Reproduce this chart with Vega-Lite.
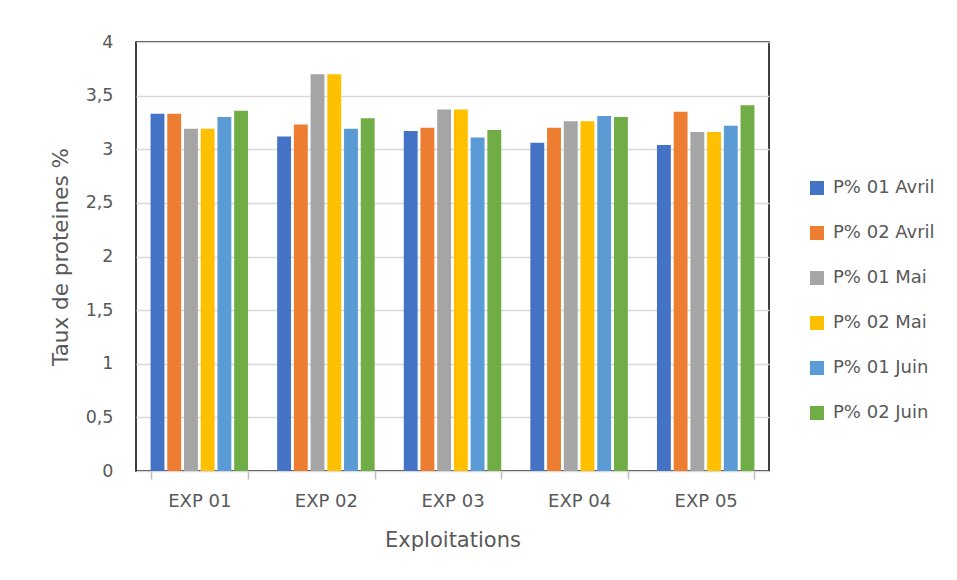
{
  "$schema": "https://vega.github.io/schema/vega-lite/v6.json",
  "width": 633,
  "height": 429,
  "autosize": {"type": "none"},
  "padding": {"left": 136, "top": 42, "right": 188, "bottom": 109},
  "background": "white",
  "config": {
    "font": "DejaVu Sans",
    "view": {"stroke": "black", "strokeWidth": 1.5},
    "axis": {"labelColor": "#595959", "titleColor": "#595959", "labelFont": "DejaVu Sans", "titleFont": "DejaVu Sans", "titleFontWeight": "normal"}
  },
  "data": {
    "values": [
      {"exp": "EXP 01", "serie": "P% 01 Avril", "v": 3.33},
      {"exp": "EXP 01", "serie": "P% 02 Avril", "v": 3.33},
      {"exp": "EXP 01", "serie": "P% 01 Mai", "v": 3.19},
      {"exp": "EXP 01", "serie": "P% 02 Mai", "v": 3.19},
      {"exp": "EXP 01", "serie": "P% 01 Juin", "v": 3.30},
      {"exp": "EXP 01", "serie": "P% 02 Juin", "v": 3.36},
      {"exp": "EXP 02", "serie": "P% 01 Avril", "v": 3.12},
      {"exp": "EXP 02", "serie": "P% 02 Avril", "v": 3.23},
      {"exp": "EXP 02", "serie": "P% 01 Mai", "v": 3.70},
      {"exp": "EXP 02", "serie": "P% 02 Mai", "v": 3.70},
      {"exp": "EXP 02", "serie": "P% 01 Juin", "v": 3.19},
      {"exp": "EXP 02", "serie": "P% 02 Juin", "v": 3.29},
      {"exp": "EXP 03", "serie": "P% 01 Avril", "v": 3.17},
      {"exp": "EXP 03", "serie": "P% 02 Avril", "v": 3.20},
      {"exp": "EXP 03", "serie": "P% 01 Mai", "v": 3.37},
      {"exp": "EXP 03", "serie": "P% 02 Mai", "v": 3.37},
      {"exp": "EXP 03", "serie": "P% 01 Juin", "v": 3.11},
      {"exp": "EXP 03", "serie": "P% 02 Juin", "v": 3.18},
      {"exp": "EXP 04", "serie": "P% 01 Avril", "v": 3.06},
      {"exp": "EXP 04", "serie": "P% 02 Avril", "v": 3.20},
      {"exp": "EXP 04", "serie": "P% 01 Mai", "v": 3.26},
      {"exp": "EXP 04", "serie": "P% 02 Mai", "v": 3.26},
      {"exp": "EXP 04", "serie": "P% 01 Juin", "v": 3.31},
      {"exp": "EXP 04", "serie": "P% 02 Juin", "v": 3.30},
      {"exp": "EXP 05", "serie": "P% 01 Avril", "v": 3.04},
      {"exp": "EXP 05", "serie": "P% 02 Avril", "v": 3.35},
      {"exp": "EXP 05", "serie": "P% 01 Mai", "v": 3.16},
      {"exp": "EXP 05", "serie": "P% 02 Mai", "v": 3.16},
      {"exp": "EXP 05", "serie": "P% 01 Juin", "v": 3.22},
      {"exp": "EXP 05", "serie": "P% 02 Juin", "v": 3.41}
    ]
  },
  "mark": {"type": "bar"},
  "encoding": {
    "x": {
      "field": "exp", "type": "nominal",
      "scale": {"paddingInner": 0.23, "paddingOuter": 0.115},
      "axis": {
        "title": "Exploitations", "titleFontSize": 21, "titlePadding": 19,
        "labelAngle": 0, "labelFontSize": 18, "labelPadding": 13,
        "domain": false, "ticks": true, "tickBand": "extent", "tickSize": 8, "tickColor": "#bfbfbf", "tickWidth": 1.5
      }
    },
    "xOffset": {
      "field": "serie", "type": "nominal",
      "sort": ["P% 01 Avril", "P% 02 Avril", "P% 01 Mai", "P% 02 Mai", "P% 01 Juin", "P% 02 Juin"],
      "scale": {"paddingInner": 0.17}
    },
    "y": {
      "field": "v", "type": "quantitative",
      "scale": {"domain": [0, 4]},
      "axis": {
        "title": "Taux de proteines %", "titleFontSize": 21.5, "titlePadding": 13,
        "values": [0, 0.5, 1, 1.5, 2, 2.5, 3, 3.5, 4],
        "labelExpr": "replace(format(datum.value, '~g'), '.', ',')",
        "labelFontSize": 17.5, "labelPadding": 23,
        "domain": false, "ticks": false,
        "grid": true, "gridColor": "#d9d9d9", "gridWidth": 1.5
      }
    },
    "color": {
      "field": "serie", "type": "nominal",
      "sort": ["P% 01 Avril", "P% 02 Avril", "P% 01 Mai", "P% 02 Mai", "P% 01 Juin", "P% 02 Juin"],
      "scale": {
        "domain": ["P% 01 Avril", "P% 02 Avril", "P% 01 Mai", "P% 02 Mai", "P% 01 Juin", "P% 02 Juin"],
        "range": ["#4472C4", "#ED7D31", "#A5A5A5", "#FFC000", "#5B9BD5", "#70AD47"]
      },
      "legend": {
        "title": null, "orient": "none", "legendX": 672, "legendY": 137,
        "symbolType": "square", "symbolSize": 196, "symbolStrokeWidth": 0,
        "labelFontSize": 18, "labelColor": "#595959", "labelFont": "DejaVu Sans",
        "rowPadding": 27, "labelOffset": 7
      }
    }
  }
}
